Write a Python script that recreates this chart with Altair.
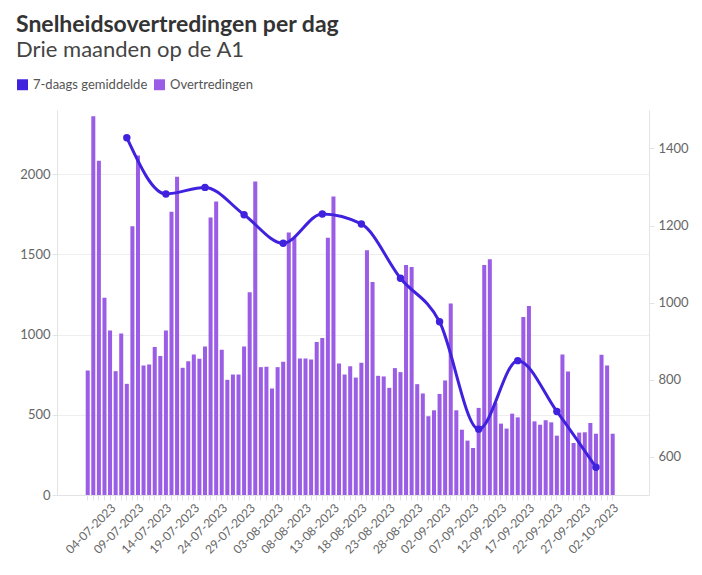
import altair as alt
import pandas as pd

# ---- data -------------------------------------------------------------
dates = [d.strftime("%d-%m-%Y") for d in pd.date_range("2023-06-30", "2023-10-02", freq="D")]
# empty days around the series that keep the band scale's outer margin
pad_before = [d.strftime("%d-%m-%Y") for d in pd.date_range("2023-06-25", "2023-06-29", freq="D")]
pad_after = [d.strftime("%d-%m-%Y") for d in pd.date_range("2023-10-03", "2023-10-08", freq="D")]

violations = [
    776, 2361, 2084, 1230, 1026, 772, 1007, 693, 1676, 2116,
    807, 813, 922, 866, 1026, 1766, 1984, 793, 834, 876,
    849, 926, 1730, 1830, 905, 718, 751, 751, 926, 1264,
    1955, 797, 800, 664, 797, 830, 1636, 1605, 851, 851,
    845, 953, 978, 1603, 1861, 820, 751, 803, 732, 824,
    1526, 1328, 743, 739, 668, 791, 766, 1434, 1422, 691,
    633, 491, 528, 630, 714, 1193, 528, 407, 339, 293,
    543, 1434, 1470, 574, 445, 414, 507, 484, 1109, 1178,
    459, 438, 466, 453, 370, 876, 770, 324, 389, 391,
    449, 382, 874, 807, 382,
]

avg_dates = [
    "07-07-2023", "14-07-2023", "21-07-2023", "28-07-2023", "04-08-2023",
    "11-08-2023", "18-08-2023", "25-08-2023", "01-09-2023", "08-09-2023",
    "15-09-2023", "22-09-2023", "29-09-2023",
]
avg_values = [1428, 1282, 1299, 1228, 1154, 1230, 1204, 1063, 950, 671, 849, 717, 572]

label_dates = dates[4::5]
series_names = ["7-daags gemiddelde", "Overtredingen"]
left_ticks = [0, 500, 1000, 1500, 2000]
right_ticks = [600, 800, 1000, 1200, 1400]

BLUE = "#3f22de"
PURPLE = "#9b5de5"
FONT = "Lato"

bars_df = pd.DataFrame({"datum": dates, "waarde": violations, "reeks": "Overtredingen"})
line_df = pd.DataFrame({"datum": avg_dates, "gem": avg_values})

label_list = "[" + ",".join("'" + d + "'" for d in label_dates) + "]"

xscale = alt.Scale(domain=pad_before + dates + pad_after, paddingInner=0.28, paddingOuter=0.14, align=0.5)
xaxis = alt.Axis(
    title=None,
    values=dates,
    labelAngle=-45,
    labelOverlap=False,
    labelExpr=f"indexof({label_list}, datum.label) >= 0 ? datum.label : ''",
    labelFontSize=12,
    tickSize=5,
)

bars = alt.Chart(bars_df).mark_bar().encode(
    x=alt.X("datum:N", scale=xscale, axis=xaxis),
    y=alt.Y(
        "waarde:Q",
        scale=alt.Scale(domain=[0, 2400], nice=False),
        axis=alt.Axis(title=None, orient="left", values=left_ticks, grid=True,
                      labelFontSize=13, format="d"),
    ),
    color=alt.Color(
        "reeks:N",
        scale=alt.Scale(domain=series_names, range=[BLUE, PURPLE]),
        legend=alt.Legend(
            title=None,
            orient="none",
            legendX=-41,
            legendY=-32,
            direction="horizontal",
            symbolType="square",
            symbolSize=120,
            labelFontSize=13,
            labelColor="#555555",
            columnPadding=5,
            labelFont=FONT,
        ),
    ),
)

line = alt.Chart(line_df).mark_line(
    color=BLUE,
    strokeWidth=3,
    interpolate="monotone",
    point=alt.OverlayMarkDef(color=BLUE, size=55, filled=True),
).encode(
    x=alt.X("datum:N", scale=xscale, axis=xaxis),
    y=alt.Y(
        "gem:Q",
        scale=alt.Scale(domain=[500, 1500], nice=False, zero=False),
        axis=alt.Axis(title=None, orient="right", values=right_ticks, grid=False,
                      labelFontSize=13, format="d", labelPadding=4),
    ),
)

chart = (
    alt.layer(bars, line)
    .resolve_scale(y="independent")
    .properties(
        width=592,
        height=385,
        autosize=alt.AutoSizeParams(type="none"),
        padding={"left": 57, "top": 110, "right": 53, "bottom": 80},
        title=alt.Title(
            text="Snelheidsovertredingen per dag",
            subtitle="Drie maanden op de A1",
            anchor="start",
            frame="group",
            dx=-41,
            fontSize=23,
            fontWeight="bold",
            color="#333333",
            subtitleFontSize=22,
            subtitleColor="#444444",
            subtitleFont=FONT,
            font=FONT,
            offset=17,
            subtitlePadding=3,
        ),
    )
    .configure_view(stroke=None)
    .configure_axis(
        domainColor="#e3e3e3",
        tickColor="#e3e3e3",
        gridColor="#eeeeee",
        labelColor="#666666",
        labelFont=FONT,
    )
)

chart.save("out.html", embed_options={"renderer": "svg", "actions": False})
